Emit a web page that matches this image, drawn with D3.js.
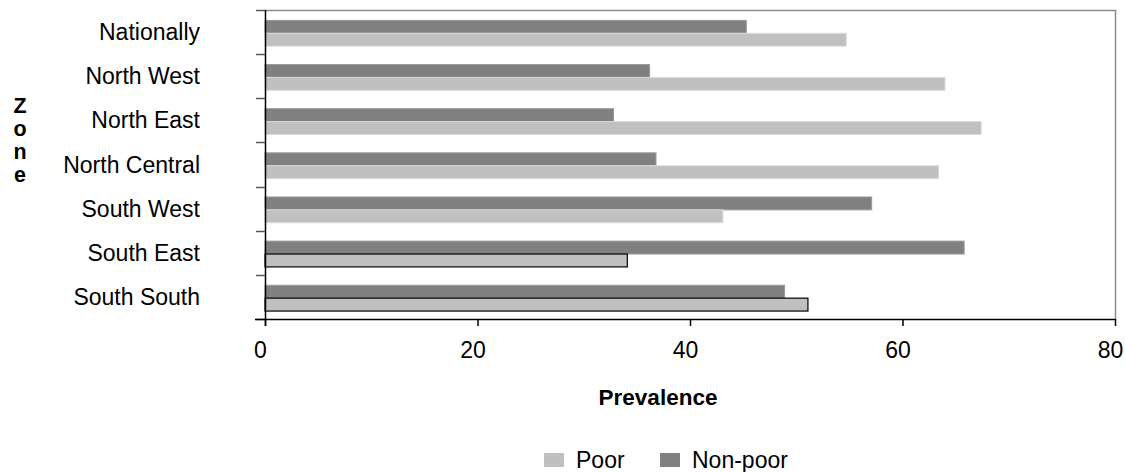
<!DOCTYPE html>
<html>
<head>
<meta charset="utf-8">
<script src="https://cdn.jsdelivr.net/npm/d3@7"></script>
<style>
  html, body { margin: 0; padding: 0; background: #fff; }
  svg { display: block; font-family: "Liberation Sans", Arial, sans-serif; }
</style>
</head>
<body>
<svg id="chart" width="1125" height="472"></svg>
<script>
const categories = ["Nationally", "North West", "North East", "North Central", "South West", "South East", "South South"];
const seriesNames = ["Non-poor", "Poor"];
const poorValues = [54.7, 64.0, 67.4, 63.4, 43.1, 34.1, 51.1];
const nonPoorValues = [45.3, 36.2, 32.8, 36.8, 57.1, 65.8, 48.9];
const xTicks = [0, 20, 40, 60, 80];
const legendOrder = ["Poor", "Non-poor"];

(function () {
const colors = { "Poor": "#c0c0c0", "Non-poor": "#808080" };
const strokes = { "Poor": "#dcdcdc", "Non-poor": "#9a9a9a" };

const svg = d3.select("#chart");
const pL = 265, pR = 1115, pT = 10, pB = 319;

const x = d3.scaleLinear().domain([0, 80]).range([pL, pR]);
const y = d3.scaleBand().domain(categories).range([pT, pB]).padding(0);
const inner = d3.scaleBand().domain(seriesNames).range([10.4, 36.2]).padding(0);

const rows = categories.map((c, i) => ({ cat: c, "Poor": poorValues[i], "Non-poor": nonPoorValues[i] }));

// plot frame (top & right grey)
svg.append("path")
  .attr("d", `M${pL},${pT + 0.5}H${pR + 0.5}V${pB}`)
  .attr("fill", "none").attr("stroke", "#8c8c8c").attr("stroke-width", 1.5);

// bars
const g = svg.append("g");
rows.forEach(r => {
  seriesNames.forEach(s => {
    const outlined = s === "Poor" && (r.cat === "South East" || r.cat === "South South");
    g.append("rect")
      .attr("x", x(0))
      .attr("y", y(r.cat) + inner(s))
      .attr("width", x(r[s]) - x(0))
      .attr("height", inner.bandwidth())
      .attr("fill", colors[s])
      .attr("stroke", outlined ? "#000" : strokes[s])
      .attr("stroke-width", outlined ? 1.2 : 1);
  });
});

// left axis
const yAxisG = svg.append("g");
yAxisG.append("line").attr("x1", pL + 0.5).attr("x2", pL + 0.5).attr("y1", pT).attr("y2", pB + 7)
  .attr("stroke", "#000").attr("stroke-width", 1.5);
const yTickPos = categories.map(c => y(c)).concat([pB]);
yAxisG.selectAll("line.tk").data(yTickPos).enter().append("line")
  .attr("class", "tk")
  .attr("x1", pL - 9).attr("x2", pL)
  .attr("y1", d => Math.round(d) + 0.5).attr("y2", d => Math.round(d) + 0.5)
  .attr("stroke", "#555").attr("stroke-width", 1.5);

// category labels
svg.append("g").selectAll("text").data(categories).enter().append("text")
  .attr("x", 200)
  .attr("y", d => y(d) + y.bandwidth() / 2 + 8)
  .attr("text-anchor", "end")
  .attr("font-size", 23)
  .attr("fill", "#000")
  .text(d => d);

// bottom axis
const xAxis = d3.axisBottom(x).tickValues(xTicks).tickSize(7).tickPadding(16).tickFormat(d3.format("d"));
const xg = svg.append("g").attr("transform", `translate(0,${pB})`).call(xAxis);
xg.select(".domain").attr("stroke", "#000").attr("stroke-width", 1.5).attr("d", `M${pL - 10},0.5H${pR}`);
xg.selectAll(".tick line").attr("stroke", "#000").attr("stroke-width", 1.5);
xg.selectAll(".tick text")
  .attr("font-size", 23)
  .attr("font-family", "Liberation Sans, Arial, sans-serif")
  .attr("fill", "#000")
  .attr("dx", -5);

// x title
svg.append("text")
  .attr("x", 658).attr("y", 405)
  .attr("text-anchor", "middle")
  .attr("font-size", 22.5).attr("font-weight", "bold")
  .text("Prevalence");

// y title (stacked letters)
const yTitle = "Zone".split("");
svg.append("g").selectAll("text").data(yTitle).enter().append("text")
  .attr("x", 20)
  .attr("y", (d, i) => 113 + i * 23)
  .attr("text-anchor", "middle")
  .attr("font-size", 21.5).attr("font-weight", "bold")
  .text(d => d);

// legend
const legendX = { "Poor": 544, "Non-poor": 660 };
const lg = svg.append("g");
legendOrder.forEach(s => {
  lg.append("rect").attr("x", legendX[s]).attr("y", 453).attr("width", 20).attr("height", 14)
    .attr("fill", colors[s]);
  lg.append("text").attr("x", legendX[s] + 32).attr("y", 468)
    .attr("font-size", 23).text(s);
});
})();
</script>
</body>
</html>
